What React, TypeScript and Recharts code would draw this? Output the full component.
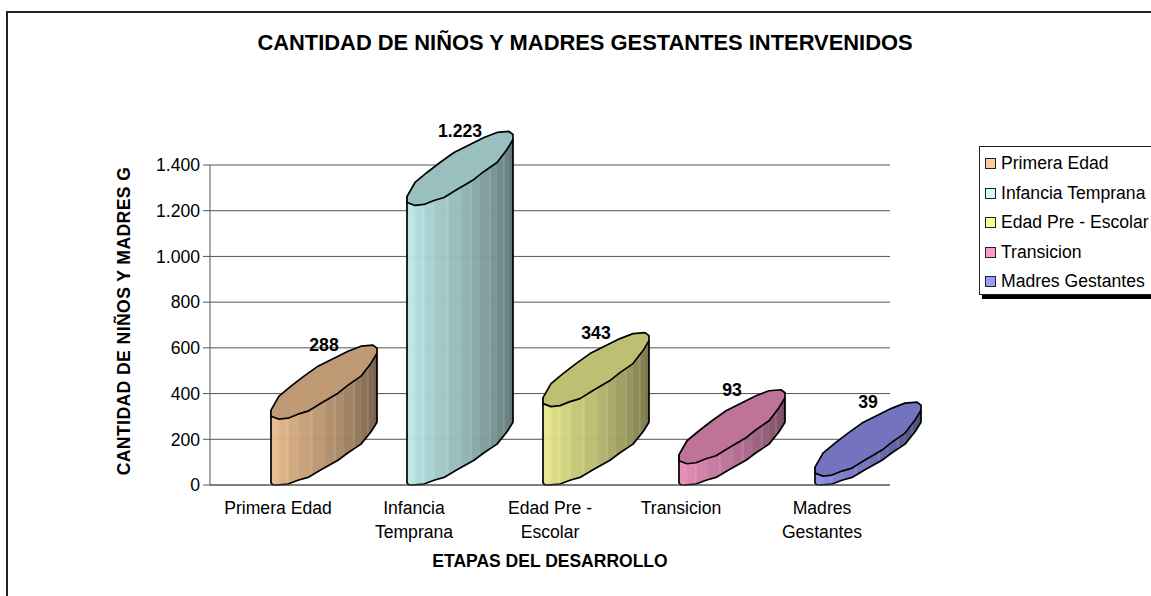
import React from "react";
import { BarChart, Bar, XAxis, YAxis, CartesianGrid, Legend, LabelList, Label } from "recharts";

const categories = ["Primera Edad", "Infancia Temprana", "Edad Pre - Escolar", "Transicion", "Madres Gestantes"];
const values = [288, 1223, 343, 93, 39];
const xTickLines = [["Primera Edad"], ["Infancia", "Temprana"], ["Edad Pre -", "Escolar"], ["Transicion"], ["Madres", "Gestantes"]];
const yTicks = [0, 200, 400, 600, 800, 1000, 1200, 1400];
const baseColors = ["#ffcc99", "#ccffff", "#ffff99", "#ff99cc", "#9999ff"];

const chartData = categories.map((name, i) => ({ name, value: values[i] }));

const FONT = "'Liberation Sans', Arial, sans-serif";

// Outline of the slanted cylinder cap, relative to the front-left of the bar at its value.
const capUpper: [number, number][] = [[0, -9], [8, -23], [20, -33], [33, -43], [47, -53], [63, -61], [77, -68], [90, -73], [102, -74], [106, -71], [106, -66]];
const capLower: [number, number][] = [[0, -3], [8, 0], [17, -1], [27, -5], [37, -8], [50, -16], [67, -26], [77, -34], [90, -43], [100, -56], [106, -66]];
const stripEdges = [0, 8, 17, 28, 41, 54, 64, 73, 83, 90, 97, 102, 106];

const fmt = (v: number) => String(v).replace(/\B(?=(\d{3})+$)/g, ".");

const shade = (hex: string, f: number) => {
  const n = parseInt(hex.slice(1), 16);
  const c = [(n >> 16) & 255, (n >> 8) & 255, n & 255].map((v) => Math.round(v * f));
  return `rgb(${c[0]},${c[1]},${c[2]})`;
};

const lowerAt = (dx: number) => {
  for (let i = 0; i < capLower.length - 1; i++) {
    const [x0, y0] = capLower[i];
    const [x1, y1] = capLower[i + 1];
    if (dx >= x0 && dx <= x1) return y0 + ((dx - x0) / (x1 - x0)) * (y1 - y0);
  }
  return capLower[capLower.length - 1][1];
};

const baseShift = (dy: number) => dy * 0.95;

const Cylinder = (props: any) => {
  const { x, y, height, index } = props;
  const base = baseColors[index];
  const pts = (l: [number, number][]) => l.map(([a, b]) => `${x + a},${y + b}`).join(" ");
  const strips = stripEdges.slice(0, -1).map((a, i) => {
    const b = stripEdges[i + 1];
    const f = 0.9 - (0.45 * i) / (stripEdges.length - 2);
    const poly = `${x + a},${y + lowerAt(a)} ${x + b},${y + lowerAt(b)} ${x + b},${y + height + baseShift(lowerAt(b))} ${x + a},${y + height + baseShift(lowerAt(a))}`;
    return <polygon key={i} points={poly} fill={shade(base, f)} fillOpacity={0.96} stroke={shade(base, f)} strokeWidth={0.4} />;
  });
  const seams = stripEdges.slice(1, -1).map((a, i) => (
    <line
      key={i}
      x1={x + a}
      x2={x + a}
      y1={y + lowerAt(a)}
      y2={y + height + baseShift(lowerAt(a))}
      stroke="#ffffff"
      strokeOpacity={i % 2 ? 0.28 : 0.12}
      strokeWidth={1}
    />
  ));
  const front =
    `M${x},${y - 9} L${x},${y + height - 3} Q${x},${y + height} ${x + 5},${y + height} ` +
    capLower
      .slice(2)
      .map(([a, b]) => `L${x + a},${y + height + baseShift(b)}`)
      .join(" ") +
    ` L${x + 106},${y - 66}`;
  return (
    <g>
      {strips}
      {seams}
      <path d={front} fill="none" stroke="#000" strokeWidth={1.7} strokeLinejoin="round" />
      <polygon
        points={pts([...capUpper, ...[...capLower].reverse()])}
        fill={shade(base, 0.75)}
        stroke="#000"
        strokeWidth={1.7}
        strokeLinejoin="round"
      />
    </g>
  );
};

const ValueLabel = (props: any) => {
  const { x, y, width, value } = props;
  return (
    <text x={x + width / 2 + 46} y={y - 74} textAnchor="middle" dominantBaseline="central" fontFamily={FONT} fontWeight="bold" fontSize={17.6} fill="#000">
      {fmt(value)}
    </text>
  );
};

const CategoryTick = (props: any) => {
  const { x, y, index } = props;
  const nudge = index === 3 ? -5 : 0;
  return (
    <g>
      {xTickLines[index].map((t, i) => (
        <text key={t} x={x + nudge} y={y + 21 + i * 24} textAnchor="middle" fontFamily={FONT} fontSize={17.6} fill="#000">
          {t}
        </text>
      ))}
    </g>
  );
};

const LegendBox = () => (
  <div
    style={{
      position: "absolute",
      left: 979,
      top: 146,
      width: 300,
      height: 149,
      boxSizing: "border-box",
      border: "1px solid #222",
      background: "#fff",
      boxShadow: "3px 4px 0 #000",
      fontFamily: FONT,
      fontSize: 17.6,
      color: "#000",
    }}
  >
    {categories.map((c, i) => (
      <div key={c} style={{ position: "absolute", left: 0, top: 2 + i * 29.5, height: 29, display: "flex", alignItems: "center", whiteSpace: "nowrap" }}>
        <span style={{ display: "inline-block", boxSizing: "border-box", width: 11, height: 11, marginLeft: 5, marginRight: 5, background: baseColors[i], border: "1.5px solid #222" }} />
        {c}
      </div>
    ))}
  </div>
);

export default function App() {
  return (
    <div style={{ position: "absolute", left: 0, top: 0, width: 1151, height: 596, overflow: "hidden", background: "#fff" }}>
      <div style={{ position: "absolute", left: 6, top: 11, width: 1300, height: 700, border: "2px solid #222", boxSizing: "border-box" }} />
      <div style={{ position: "absolute", left: 0, top: 0 }}>
        <BarChart width={1151} height={596} data={chartData} margin={{ top: 165, right: 261, bottom: 0, left: 0 }} barSize={14}>
          <text x={585} y={42} dominantBaseline="central" textAnchor="middle" fontFamily={FONT} fontWeight="bold" fontSize={21.9} fill="#000">
            CANTIDAD DE NIÑOS Y MADRES GESTANTES INTERVENIDOS
          </text>
          <CartesianGrid horizontal vertical={false} stroke="#555" strokeWidth={1} />
          <XAxis dataKey="name" height={111} interval={0} tickLine={false} axisLine={{ stroke: "#555" }} tick={<CategoryTick />}>
            <Label value="ETAPAS DEL DESARROLLO" position="insideBottom" offset={29} style={{ fontFamily: FONT, fontWeight: "bold", fontSize: 17.5, fill: "#000" }} />
          </XAxis>
          <YAxis
            width={210}
            domain={[0, 1400]}
            ticks={yTicks}
            tickFormatter={fmt}
            tickSize={7}
            tickMargin={3}
            interval={0}
            axisLine={{ stroke: "#555" }}
            tickLine={{ stroke: "#555" }}
            tick={{ fontFamily: FONT, fontSize: 17.6, fill: "#000" }}
          >
            <Label value="CANTIDAD DE NIÑOS Y MADRES G" angle={-90} position="insideLeft" offset={124} dy={-4} style={{ textAnchor: "middle", fontFamily: FONT, fontWeight: "bold", fontSize: 17.6, letterSpacing: 0.4, fill: "#000" }} />
          </YAxis>
          <Legend layout="vertical" align="center" verticalAlign="middle" wrapperStyle={{ position: "absolute", left: 0, top: 0, width: 0, height: 0 }} content={<LegendBox />} />
          <Bar dataKey="value" isAnimationActive={false} shape={<Cylinder />}>
            <LabelList dataKey="value" content={<ValueLabel />} />
          </Bar>
        </BarChart>
      </div>
    </div>
  );
}
